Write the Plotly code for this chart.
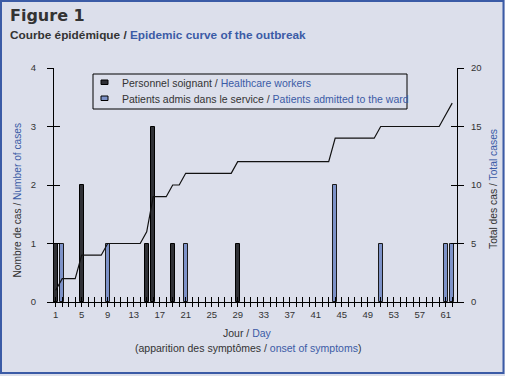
import plotly.graph_objects as go

# ---------------- data ----------------
hcw_days = [1, 5, 15, 16, 19, 29]
hcw_counts = [1, 2, 1, 3, 1, 1]
pat_days = [2, 9, 21, 44, 51, 61, 62]
pat_counts = [1, 1, 1, 2, 1, 1, 1]
cum_days = list(range(1, 63))
cum_total = [1, 2, 2, 2, 4, 4, 4, 4, 5, 5, 5, 5, 5, 5, 6, 9, 9, 9, 10, 10,
             11, 11, 11, 11, 11, 11, 11, 11, 12, 12, 12, 12, 12, 12, 12, 12,
             12, 12, 12, 12, 12, 12, 12, 14, 14, 14, 14, 14, 14, 14, 15, 15,
             15, 15, 15, 15, 15, 15, 15, 15, 16, 17]
tick_days = list(range(1, 63))
tick_labels = [str(d) if (d - 1) % 4 == 0 else "" for d in tick_days]
left_ticks = [0, 1, 2, 3, 4]
right_ticks = [0, 5, 10, 15, 20]

# ---------------- styling ----------------
W, H = 505, 376
L, R, T, B = 54, 48, 68, 74
PW, PH = W - L - R, H - T - B
BG = "#dcdfeb"
BLUE = "#3b5ba6"
DARK = "#333333"
FONT = "Liberation Sans"
DARK_BAR = "#303136"
BLUE_BAR = "#7d92c8"


def px(x):
    return (x - L) / PW


def py(y):
    return (H - B - y) / PH


fig = go.Figure()
fig.add_trace(go.Bar(x=hcw_days, y=hcw_counts, width=0.6,
                     marker=dict(color=DARK_BAR, line=dict(color="#000000", width=1)),
                     name="Personnel soignant / Healthcare workers", showlegend=False))
fig.add_trace(go.Bar(x=pat_days, y=pat_counts, width=0.6,
                     marker=dict(color=BLUE_BAR, line=dict(color="#1a1a1a", width=1)),
                     name="Patients admis dans le service / Patients admitted to the ward",
                     showlegend=False))
fig.add_trace(go.Scatter(x=cum_days, y=cum_total, mode="lines", yaxis="y2",
                         line=dict(color="#111111", width=1.2), showlegend=False,
                         name="Total"))
# empty helper traces so that the tick-only overlay axes get drawn
for xa, ya in (("x2", "y3"), ("x2", "y4")):
    fig.add_trace(go.Scatter(x=[None], y=[None], xaxis=xa, yaxis=ya, mode="markers",
                             showlegend=False, hoverinfo="skip"))

xr = [1 - 1.7 / 6.5, 1 - 1.7 / 6.5 + PW / 6.5]
tickfont = dict(family=FONT, size=9.5, color=DARK)

fig.update_layout(
    width=W, height=H,
    margin=dict(l=L, r=R, t=T, b=B),
    paper_bgcolor=BG, plot_bgcolor=BG,
    barmode="overlay", bargap=0,
    xaxis=dict(range=xr, tickvals=tick_days, ticktext=tick_labels, ticks="outside",
               ticklen=4, tickcolor="#000", tickwidth=1, showline=True,
               linecolor="#000", linewidth=1, showgrid=False, zeroline=False,
               tickfont=tickfont, tickangle=0),
    xaxis2=dict(range=xr, overlaying="x", anchor="y", side="bottom",
                tickvals=tick_days, ticks="inside", ticklen=5, tickcolor="#000",
                tickwidth=1, showticklabels=False, showline=False, showgrid=False,
                zeroline=False),
    yaxis=dict(range=[0, 4], tickvals=left_ticks, ticks="outside", ticklen=6,
               tickcolor="#000", showline=True, linecolor="#000", linewidth=1,
               showgrid=False, zeroline=False, tickfont=tickfont, ticklabelstandoff=9),
    yaxis3=dict(range=[0, 4], overlaying="y", anchor="x", side="left",
                tickvals=left_ticks, ticks="inside", ticklen=6, tickcolor="#000",
                showticklabels=False, showline=False, showgrid=False, zeroline=False),
    yaxis2=dict(range=[0, 20], overlaying="y", anchor="x", side="right",
                tickvals=right_ticks, ticks="outside", ticklen=6, tickcolor="#000",
                showline=True, linecolor="#000", linewidth=1, showgrid=False,
                zeroline=False, tickfont=tickfont, ticklabelstandoff=5),
    yaxis4=dict(range=[0, 20], overlaying="y", anchor="x", side="right",
                tickvals=right_ticks, ticks="inside", ticklen=6, tickcolor="#000",
                showticklabels=False, showline=False, showgrid=False, zeroline=False),
)


def ann(text, x, y, size, xanchor="left", angle=0, family=FONT, weight="normal"):
    fig.add_annotation(text=text, x=px(x), y=py(y), xref="paper", yref="paper",
                       xanchor=xanchor, yanchor="middle", showarrow=False,
                       textangle=angle, borderpad=0, borderwidth=0,
                       font=dict(family=family, size=size, color=DARK, weight=weight))


def two(fr, en):
    return f"{fr}<span style='color:{BLUE}'>{en}</span>"


ann("Figure 1", 10, 15.5, 16, family="DejaVu Sans", weight="bold")
ann(two("Courbe épidémique / ", "Epidemic curve of the outbreak"), 10, 35, 11.8,
    weight="bold")
ann(two("Personnel soignant / ", "Healthcare workers"), 121.5, 82.5, 10.5)
ann(two("Patients admis dans le service / ", "Patients admitted to the ward"), 121.5, 98.5, 10.5)
ann(two("Jour / ", "Day"), 247, 332.5, 10.5, xanchor="center")
ann(two("(apparition des symptômes / ", "onset of symptoms") + ")", 248, 348, 10.5,
    xanchor="center")
ann(two("Nombre de cas / ", "Number of cases"), 16.5, 200, 10.2, xanchor="center", angle=-90)
ann(two("Total des cas / ", "Total cases"), 493, 189, 10.3, xanchor="center", angle=-90)

# legend box and swatches (decoration, paper coordinates)
fig.add_shape(type="rect", xref="paper", yref="paper", x0=px(93), x1=px(407),
              y0=py(109), y1=py(74), line=dict(color="#000", width=1))
fig.add_shape(type="rect", xref="paper", yref="paper", x0=px(101), x1=px(108),
              y0=py(84.5), y1=py(80), fillcolor=DARK_BAR, line=dict(color="#000", width=1))
fig.add_shape(type="rect", xref="paper", yref="paper", x0=px(101), x1=px(108),
              y0=py(100.5), y1=py(96), fillcolor=BLUE_BAR, line=dict(color="#000", width=1))
# outer frame
fig.add_shape(type="rect", xref="paper", yref="paper", x0=px(1), x1=px(503.5),
              y0=py(373), y1=py(1), line=dict(color=BLUE, width=2))

fig.write_html("out.html", config={"displayModeBar": False},
               post_script="document.body.style.margin='0px';"
                           "document.body.style.overflow='hidden';")
